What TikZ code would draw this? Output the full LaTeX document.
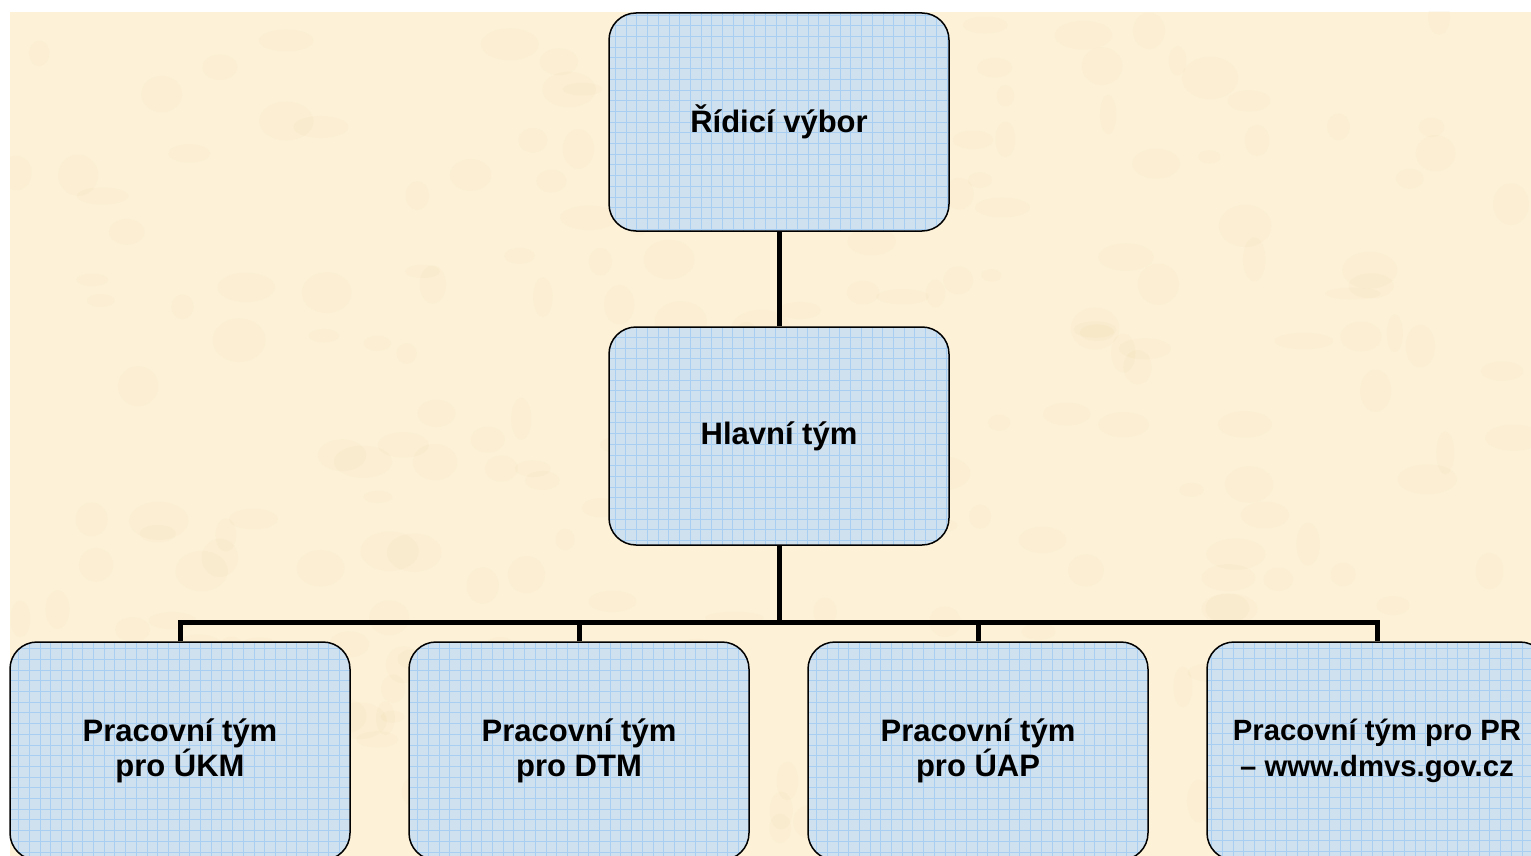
\documentclass[tikz,border=0pt]{standalone}
\usepackage{fontspec}
\setmainfont{Liberation Sans}
\definecolor{parch}{RGB}{253,242,216}
\definecolor{parchdark}{RGB}{242,222,180}
\definecolor{boxblue}{RGB}{207,224,238}
\definecolor{gridblue}{RGB}{168,206,242}
\tikzset{
  orgbox/.style={draw=black, line width=1.5pt, rounded corners=27pt, fill=boxblue,
    minimum width=340pt, minimum height=218pt, inner sep=0pt, align=center,
    font=\fontsize{31}{35.5}\selectfont\bfseries, text=black,
    path picture={\draw[gridblue, line width=0.6pt, step=10.7pt]
      (path picture bounding box.south west) grid (path picture bounding box.north east);}},
  conn/.style={line width=5pt, draw=black}
}
\begin{document}
\begin{tikzpicture}[x=1pt, y=-1pt]
\useasboundingbox (0,0) rectangle (1531,856);
\clip (0,0) rectangle (1531,856);
\fill[white] (0,0) rectangle (1531,856);
\fill[parch] (10,12) rectangle (1531,856);
\begin{scope}
\clip (10,12) rectangle (1531,856);
\pgfmathsetseed{7}
\foreach \i in {1,...,260}{
  \pgfmathsetmacro{\px}{10+1521*rnd}
  \pgfmathsetmacro{\py}{12+844*rnd}
  \pgfmathsetmacro{\rx}{8+22*rnd}
  \pgfmathsetmacro{\ry}{6+16*rnd}
  \fill[parchdark, opacity=0.16] (\px,\py) ellipse [x radius=\rx pt, y radius=\ry pt];
}
\end{scope}

\node[orgbox] (top) at (779,122) {Řídicí výbor};
\node[orgbox] (mid) at (779,436) {Hlavní tým};
\node[orgbox] (b1) at (180,751) {Pracovní tým\\pro ÚKM};
\node[orgbox] (b2) at (579,751) {Pracovní tým\\pro DTM};
\node[orgbox] (b3) at (978,751) {Pracovní tým\\pro ÚAP};
\node[orgbox, font=\fontsize{29.3}{35.5}\selectfont\bfseries] (b4) at (1377,751) {Pracovní tým pro PR\\– www.dmvs.gov.cz};
\coordinate (bar) at (779,622);

\draw[conn] (top.south) -- (mid.north);
\draw[conn] (mid.south) -- (mid.south |- bar);
\draw[conn] (b1.north) -- (b1.north |- bar) -- (b4.north |- bar) -- (b4.north);
\draw[conn] (b2.north) -- (b2.north |- bar);
\draw[conn] (b3.north) -- (b3.north |- bar);
\end{tikzpicture}
\end{document}
